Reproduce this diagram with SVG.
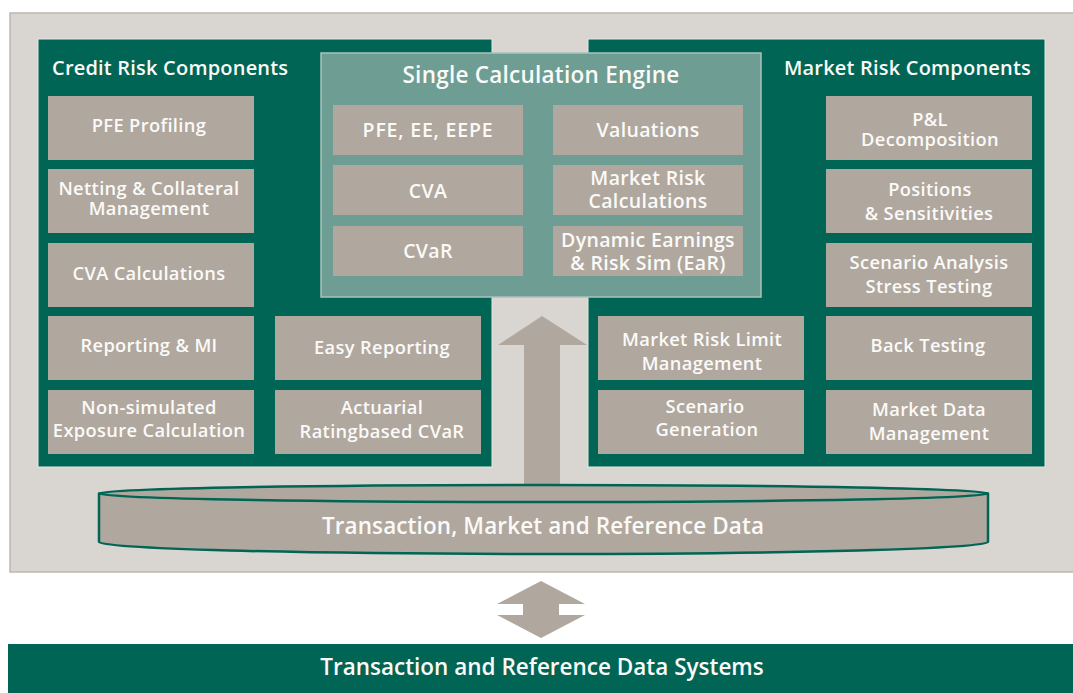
<svg xmlns="http://www.w3.org/2000/svg" width="1073" height="693" viewBox="0 0 1073 693">
  <style>
    .panel { fill: #006554; stroke: #e4e9e6; stroke-width: 1; }
    .box { fill: #b0a79e; }
    .engine { fill: #6e9d93; stroke: #a9c2bc; stroke-width: 1.5; }
    .t { font-family: "Open Sans", "Liberation Sans", sans-serif; font-weight: 600; fill: #fbfaf8; text-anchor: middle; font-size: 18.3px; letter-spacing: 0.35px; }
    .te { font-family: "Open Sans", "Liberation Sans", sans-serif; font-weight: 600; fill: #fbfaf8; text-anchor: middle; font-size: 19.5px; letter-spacing: 0.35px; }
    .title { font-family: "Open Sans", "Liberation Sans", sans-serif; font-weight: 600; fill: #fbfaf8; font-size: 20px; letter-spacing: 0.2px; }
    .big { font-family: "Open Sans", "Liberation Sans", sans-serif; font-weight: 600; fill: #fbfaf8; text-anchor: middle; font-size: 22.5px; }
    .flow { fill: #b0a79e; }
  </style>

  <!-- background platform -->
  <rect x="10" y="13" width="1065" height="559" fill="#d9d5d1" stroke="#bfb7b0" stroke-width="1.5"/>

  <!-- credit risk side -->
  <g id="credit-risk">
    <rect class="panel" x="38" y="39" width="454" height="428"/>
    <text class="title" x="52" y="75">Credit Risk Components</text>
  </g>

  <!-- market risk side -->
  <g id="market-risk">
    <rect class="panel" x="588" y="39" width="457" height="428"/>
    <text class="title" x="1031" y="75" text-anchor="end">Market Risk Components</text>
  </g>

  <!-- credit components -->
  <g id="pfe-profiling"><rect class="box" x="48" y="96" width="206" height="64"/><text class="t" x="149" y="132">PFE Profiling</text></g>
  <g id="netting"><rect class="box" x="48" y="169" width="206" height="64"/><text class="t" y="195"><tspan x="149">Netting &amp; Collateral</tspan><tspan x="149" dy="20">Management</tspan></text></g>
  <g id="cva-calculations"><rect class="box" x="48" y="243" width="206" height="64"/><text class="t" x="149" y="280">CVA Calculations</text></g>
  <g id="reporting-mi"><rect class="box" x="48" y="316" width="206" height="64"/><text class="t" x="149" y="352">Reporting &amp; MI</text></g>
  <g id="non-simulated"><rect class="box" x="48" y="390" width="206" height="64"/><text class="t" y="414"><tspan x="149">Non-simulated</tspan><tspan x="149" dy="23">Exposure Calculation</tspan></text></g>
  <g id="easy-reporting"><rect class="box" x="275" y="316" width="206" height="64"/><text class="t" x="382" y="354">Easy Reporting</text></g>
  <g id="actuarial"><rect class="box" x="275" y="390" width="206" height="64"/><text class="t" y="414"><tspan x="382">Actuarial</tspan><tspan x="382" dy="24">Ratingbased CVaR</tspan></text></g>

  <!-- market components -->
  <g id="pl-decomposition"><rect class="box" x="826" y="96" width="206" height="64"/><text class="t" y="126"><tspan x="930">P&amp;L</tspan><tspan x="930" dy="20">Decomposition</tspan></text></g>
  <g id="positions"><rect class="box" x="826" y="169" width="206" height="64"/><text class="t" y="196"><tspan x="930">Positions</tspan><tspan x="929" dy="24">&amp; Sensitivities</tspan></text></g>
  <g id="scenario-analysis"><rect class="box" x="826" y="243" width="206" height="64"/><text class="t" y="269"><tspan x="929">Scenario Analysis</tspan><tspan x="929" dy="24">Stress Testing</tspan></text></g>
  <g id="back-testing"><rect class="box" x="826" y="316" width="206" height="64"/><text class="t" x="928" y="352">Back Testing</text></g>
  <g id="market-data"><rect class="box" x="826" y="390" width="206" height="64"/><text class="t" y="416"><tspan x="929">Market Data</tspan><tspan x="929" dy="24">Management</tspan></text></g>
  <g id="limit-management"><rect class="box" x="598" y="316" width="206" height="64"/><text class="t" y="346"><tspan x="702">Market Risk Limit</tspan><tspan x="702" dy="24">Management</tspan></text></g>
  <g id="scenario-generation"><rect class="box" x="598" y="390" width="206" height="64"/><text class="t" y="413"><tspan x="705">Scenario</tspan><tspan x="707" dy="23">Generation</tspan></text></g>

  <!-- calculation engine -->
  <g id="engine">
    <rect class="engine" x="321" y="53" width="440" height="244"/>
    <text class="big" x="541" y="83" style="letter-spacing:0.25px">Single Calculation Engine</text>
  </g>
  <g id="pfe-ee-eepe"><rect class="box" x="333" y="105" width="190" height="50"/><text class="te" x="428" y="137" style="letter-spacing:0.8px">PFE, EE, EEPE</text></g>
  <g id="valuations"><rect class="box" x="553" y="105" width="190" height="50"/><text class="te" x="648" y="137">Valuations</text></g>
  <g id="cva"><rect class="box" x="333" y="165" width="190" height="50"/><text class="te" x="428" y="198">CVA</text></g>
  <g id="market-risk-calc"><rect class="box" x="553" y="165" width="190" height="50"/><text class="te" y="185"><tspan x="648">Market Risk</tspan><tspan x="648" dy="23">Calculations</tspan></text></g>
  <g id="cvar"><rect class="box" x="333" y="226" width="190" height="50"/><text class="te" x="428" y="258">CVaR</text></g>
  <g id="dynamic-earnings"><rect class="box" x="553" y="226" width="190" height="50"/><text class="te" y="247"><tspan x="648">Dynamic Earnings</tspan><tspan x="648" dy="23">&amp; Risk Sim (EaR)</tspan></text></g>

  <!-- data flows -->
  <g id="connectors">
    <polygon class="flow" points="542,316 587,345 560,345 560,486 524,486 524,345 498,345"/>
    <polygon class="flow" points="541,581 585,604 559,604 559,615 585,615 541,638 497,615 523,615 523,604 497,604"/>
  </g>

  <!-- shared data store -->
  <g id="data-store">
    <path d="M99,493.5 L99,542 A444.5,12 0 0 0 988,542 L988,493.5 Z" fill="#b0a79e" stroke="#006554" stroke-width="2.5" stroke-linejoin="round"/>
    <ellipse cx="543.5" cy="493.5" rx="444.5" ry="8.5" fill="#b0a79e" stroke="#006554" stroke-width="2.5"/>
    <text class="big" x="543" y="534" style="letter-spacing:0.1px">Transaction, Market and Reference Data</text>
  </g>

  <!-- source systems -->
  <g id="source-systems">
    <rect x="8" y="644" width="1066" height="50" fill="#006554"/>
    <text class="big" x="542" y="675">Transaction and Reference Data Systems</text>
  </g>
</svg>
